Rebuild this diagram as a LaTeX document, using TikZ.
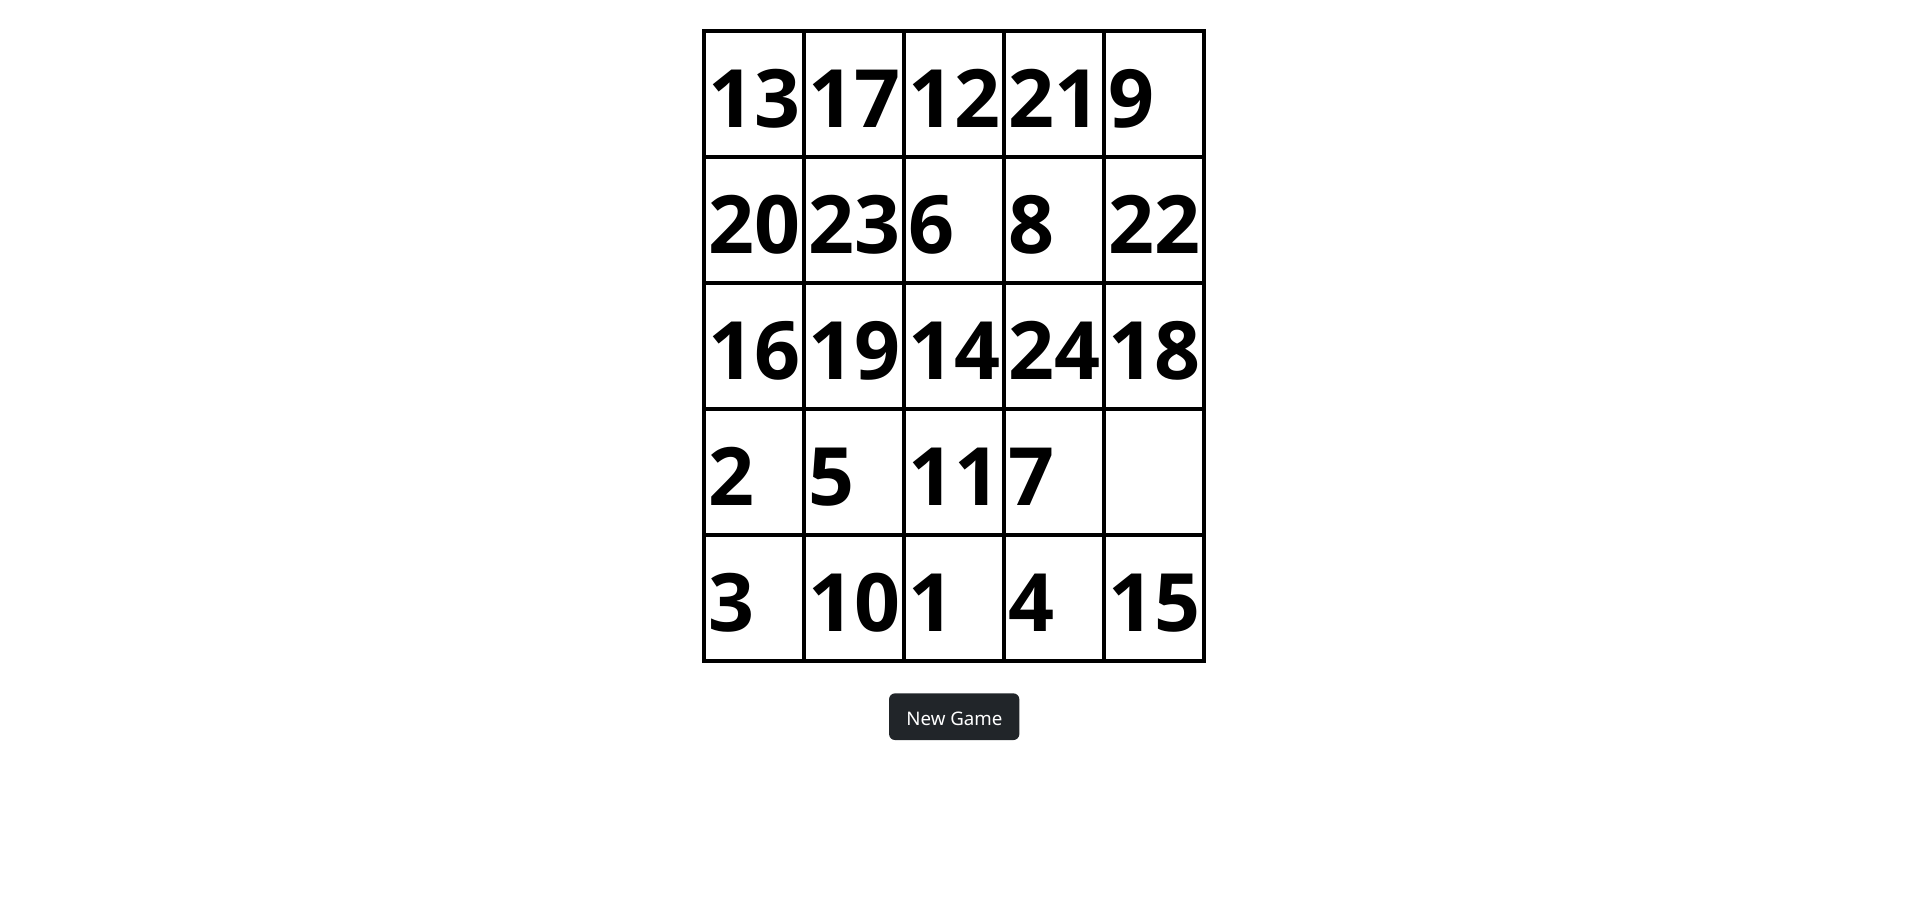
\documentclass[tikz,border=0pt]{standalone}
\usepackage{fontspec}
\setmainfont{Noto Sans}
\IfFontExistsTF{Open Sans Bold}{\newfontfamily\tilefont{Open Sans Bold}}{%
  \IfFontExistsTF{OpenSans-Bold}{\newfontfamily\tilefont{OpenSans-Bold}}{%
    \IfFontExistsTF{Fira Sans Bold}{\newfontfamily\tilefont{Fira Sans Bold}}{%
      \newfontfamily\tilefont{Noto Sans}[FakeBold=2.5]}}}
\definecolor{btngray}{HTML}{212529}
\begin{document}
\begin{tikzpicture}[x=1pt,y=-1pt,
  cell/.style={draw=black,line width=4pt,minimum width=99.9pt,minimum height=126pt,inner sep=0pt,outer sep=0pt},
  num/.style={anchor=base west,inner sep=0pt,text=black,font=\fontsize{80.5}{80.5}\tilefont},
  btn/.style={fill=btngray,rounded corners=6pt,minimum width=130.3pt,minimum height=46.7pt,inner sep=0pt},
  btntext/.style={anchor=base,inner sep=0pt,text=white,font=\fontsize{18.7}{18.7}\selectfont}]
\useasboundingbox (0,0) rectangle (1913,916);
\foreach \row [count=\i from 0] in {{13,17,12,21,9},{20,23,6,8,22},{16,19,14,24,18},{2,5,11,7,{}},{3,10,1,4,15}} {
  \foreach \v [count=\j from 0] in \row {
    \node[cell] (c-\i-\j) at ({704.3+99.9*(\j+0.5)},{31.2+126*(\i+0.5)}) {};
    \node[num] (n-\i-\j) at ({704.3+99.9*\j+4},{31.2+126*\i+96.5}) {\v};
  }
}
\node[btn] (button) at (954.2,716.7) {};
\node[btntext] (buttonlabel) at (954.4,725.7) {New Game};
\end{tikzpicture}
\end{document}
